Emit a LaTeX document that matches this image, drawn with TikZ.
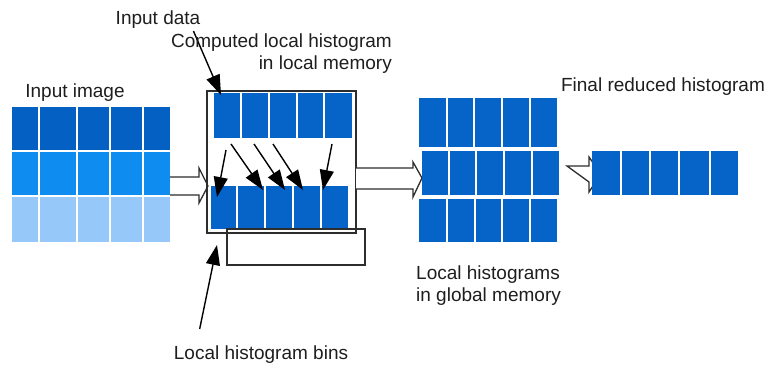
\documentclass[tikz,border=0pt]{standalone}
\usepackage{fontspec}
\setmainfont{Liberation Sans}
\usepackage{xcolor}
\usepackage{tikz}
\usetikzlibrary{arrows.meta,positioning}

\definecolor{histblue}{RGB}{6,100,200}
\definecolor{imgdark}{RGB}{5,96,196}
\definecolor{imgmid}{RGB}{14,140,240}
\definecolor{imglight}{RGB}{150,200,250}
\definecolor{frameline}{RGB}{45,45,45}
\definecolor{textgray}{RGB}{30,30,30}

\tikzset{
    sep/.style={white, line width=1.1pt},
    frame/.style={draw=frameline, line width=1.3pt},
    bigarrow/.style={draw=frameline, line width=1.3pt, fill=white},
    ptr/.style={-{Triangle[length=20pt,width=14pt]}, line width=1.4pt},
    lbl/.style={inner sep=0pt, text=textgray, font=\fontsize{19}{22}\selectfont}
}

\begin{document}
\begin{tikzpicture}[x=1pt, y=-1pt]
                \useasboundingbox (0,0) rectangle (772,365);

                % input image
                \fill[imgdark] (12,107) rectangle (170,151);
                \fill[imgmid] (12,151) rectangle (170,196);
                \fill[imglight] (12,196) rectangle (170,242) node[pos=.5] (image) {};
                \foreach \x in {39,77,110,143} \draw[sep] (\x,107) -- (\x,242);
                \foreach \y in {151,196} \draw[sep] (12,\y) -- (170,\y);
                \node[lbl] (imagelabel) at (75,93) {Input image};

                % arrow into local memory
                \draw[bigarrow] (170,177) -- (199,177) -- (199,168) -- (208,186)
                    -- (199,203) -- (199,195) -- (170,195);

                % local memory
                \draw[frame] (207,91) rectangle (356,233) node[pos=.5] (localmem) {};
                \fill[histblue] (214,93) rectangle (352,138) node[pos=.5] (indata) {};
                \foreach \x in {241,269,297,324} \draw[sep] (\x,93) -- (\x,138);
                \fill[histblue] (211,186) rectangle (348,229) node[pos=.5] (localbins) {};
                \foreach \x in {237,265,293,321} \draw[sep] (\x,186) -- (\x,229);
                \draw[frame] (227,229) rectangle (365,265) node[pos=.5] (binsbox) {};

                % scatter of data into bins
                \coordinate (s1) at (226,150);  \coordinate (t1) at (217,197);
                \coordinate (s2) at (231,144);  \coordinate (t2) at (263,190);
                \coordinate (s3) at (254,144);  \coordinate (t3) at (285,190);
                \coordinate (s4) at (273,144);  \coordinate (t4) at (303,190);
                \coordinate (s5) at (332,144);  \coordinate (t5) at (323,190);
                \foreach \i in {1,...,5} \draw[ptr] (s\i) -- (t\i);

                \node[lbl] (inputdata) at (158,20) {Input data};
                \coordinate (indatatip) at (221,95);
                \draw[ptr] ([xshift=-7pt,yshift=-2pt]inputdata.south east) -- (indatatip);

                \node[lbl, align=right, anchor=east] (computed) at (392,54)
                    {Computed local histogram\\in local memory};

                \node[lbl] (bins) at (261,355) {Local histogram bins};
                \coordinate (binstip) at (217,245);
                \draw[ptr] ([xshift=26pt,yshift=17pt]bins.north west) -- (binstip);

                % arrow to global memory
                \draw[bigarrow] (356,168) -- (413,168) -- (413,162) -- (422,178)
                    -- (413,197) -- (413,189) -- (356,189);

                % local histograms in global memory
                \fill[histblue] (419,98) rectangle (557,147) node[pos=.5] (global1) {};
                \foreach \x in {447,474,502,530} \draw[sep] (\x,98) -- (\x,147);
                \fill[histblue] (422,151) rectangle (559,195) node[pos=.5] (global2) {};
                \foreach \x in {449,476,504,532} \draw[sep] (\x,151) -- (\x,195);
                \fill[histblue] (419,199) rectangle (557,242) node[pos=.5] (global3) {};
                \foreach \x in {447,475,502,530} \draw[sep] (\x,199) -- (\x,242);
                \node[lbl, align=left, anchor=west] (globallabel) at (416,286)
                    {Local histograms\\in global memory};

                % reduction
                \draw[bigarrow] (567,166) -- (589,166) -- (589,157) -- (601,174)
                    -- (589,192) -- (589,182) -- cycle;
                \fill[histblue] (592,151) rectangle (738,195) node[pos=.5] (final) {};
                \foreach \x in {621,650,679,710} \draw[sep] (\x,151) -- (\x,195);
                \node[lbl] (finallabel) at (663,87) {Final reduced histogram};

\end{tikzpicture}
\end{document}
